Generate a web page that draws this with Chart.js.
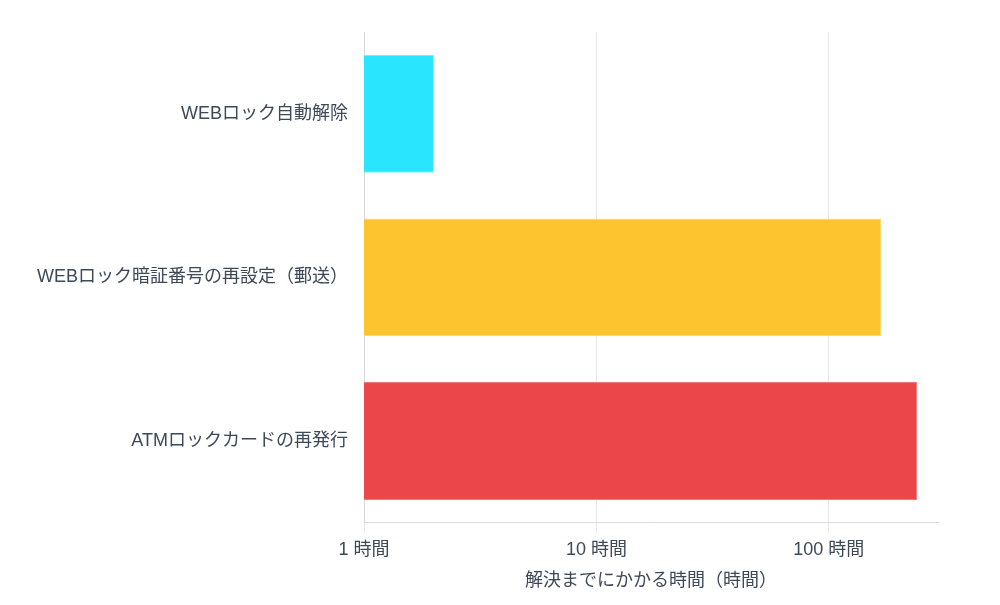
<!DOCTYPE html>
<html>
<head>
<meta charset="utf-8">
<script src="https://cdn.jsdelivr.net/npm/chart.js@4/dist/chart.umd.min.js"></script>
<style>
  html, body { margin: 0; padding: 0; background: #fff; }
  #wrap { width: 1000px; height: 605px; }
</style>
</head>
<body>
<div id="wrap"><canvas id="chart"></canvas></div>
<script>
const categories = ["WEBロック自動解除", "WEBロック暗証番号の再設定（郵送）", "ATMロックカードの再発行"];
const hours = [2, 168, 240];
const barColors = ["rgb(41,229,254)", "rgb(253,196,47)", "rgb(235,71,74)"];
const tickValues = [1, 10, 100];
const axisTitle = "解決までにかかる時間（時間）";

const font = "'Helvetica Neue', Helvetica, 'Noto Sans CJK JP', sans-serif";
const textColor = "#3d4859";

new Chart(document.getElementById("chart"), {
  type: "bar",
  data: {
    labels: categories,
    datasets: [{
      data: hours,
      backgroundColor: barColors,
      borderColor: ["rgba(120,238,255,1)", "rgba(254,214,110,1)", "rgba(242,120,122,1)"],
      borderWidth: 1
    }]
  },
  options: {
    indexAxis: "y",
    responsive: true,
    maintainAspectRatio: false,
    animation: false,
    layout: { padding: { top: 32, right: 62, bottom: 13, left: 0 } },
    plugins: { legend: { display: false }, tooltip: { enabled: false } },
    scales: {
      x: {
        type: "logarithmic",
        min: 1,
        max: 295,
        afterBuildTicks: (scale) => { scale.ticks = tickValues.map(v => ({ value: v })); },
        ticks: {
          callback: (v) => v + " 時間",
          color: textColor,
          font: { family: font, size: 18 },
          padding: 6,
          maxRotation: 0
        },
        grid: { color: "#e6e6e6", tickLength: 10 },
        border: { color: "#dcdcdc" },
        title: {
          display: true,
          text: axisTitle,
          color: textColor,
          font: { family: font, size: 18 },
          padding: { top: 4, bottom: 0 }
        }
      },
      y: {
        grid: { display: false },
        border: { color: "#d6d6d6" },
        ticks: {
          color: textColor,
          font: { family: font, size: 18 },
          padding: 8
        },
        afterFit: (scale) => { scale.width = 364; }
      }
    }
  }
});
</script>
</body>
</html>
